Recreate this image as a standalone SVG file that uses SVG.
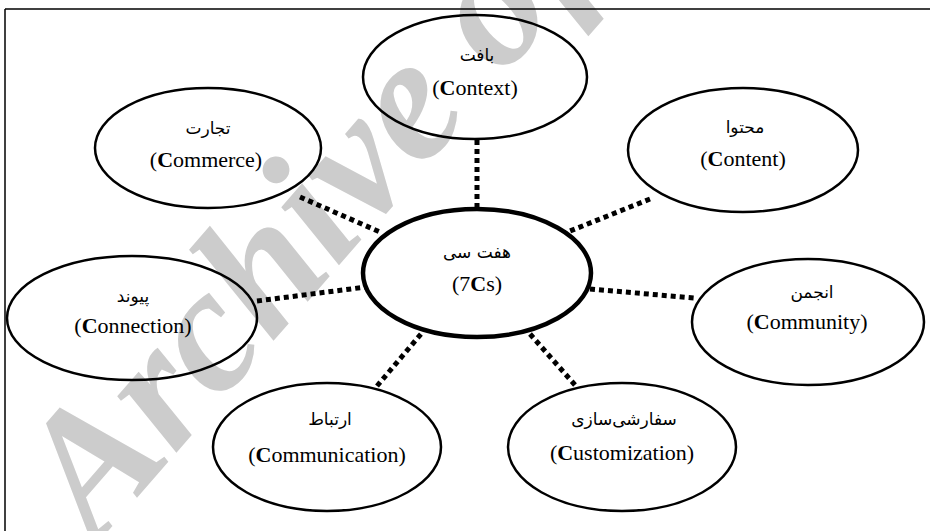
<svg xmlns="http://www.w3.org/2000/svg" width="930" height="531" viewBox="0 0 930 531">
<style>
.node ellipse{fill:none;stroke:#000;stroke-width:2.5}
#center ellipse{stroke-width:4.5}
.fa{font-family:"DejaVu Sans",sans-serif;font-size:17px;fill:#000;text-anchor:middle}
.en{font-family:"Liberation Serif","Times New Roman",serif;font-size:22px;fill:#000;text-anchor:middle}
.b{font-weight:bold}
#connectors line{stroke:#000;stroke-width:5;stroke-dasharray:5 4;fill:none}
</style>
<rect width="930" height="531" fill="#fff"/>
<text x="0" y="0" transform="translate(96 545) rotate(-49)" font-family="Liberation Serif,serif" font-style="italic" font-weight="bold" font-size="178" fill="#cccccc">Archive of</text>
<g id="frame" stroke="#000" stroke-width="1.5">
<line x1="5" y1="9" x2="930" y2="9"/>
<line x1="5" y1="9" x2="5" y2="531"/>
</g>
<g id="connectors">
<line x1="477" y1="140" x2="477" y2="209"/>
<line x1="300" y1="197" x2="380" y2="232"/>
<line x1="650" y1="199" x2="565" y2="233"/>
<line x1="257" y1="301" x2="366" y2="287"/>
<line x1="590" y1="289" x2="694" y2="298"/>
<line x1="377" y1="386" x2="421" y2="334"/>
<line x1="575" y1="385" x2="530" y2="334"/>
</g>
<g id="context" class="node">
<ellipse cx="475" cy="77" rx="112" ry="62"/>
<text class="fa" x="477" y="61">بافت</text>
<text class="en" x="475" y="95">(<tspan class="b">C</tspan>ontext)</text>
</g>
<g id="commerce" class="node">
<ellipse cx="208" cy="148" rx="113" ry="60"/>
<text class="fa" x="208" y="134">تجارت</text>
<text class="en" x="206" y="167">(<tspan class="b">C</tspan>ommerce)</text>
</g>
<g id="content" class="node">
<ellipse cx="743" cy="150" rx="115" ry="62"/>
<text class="fa" x="745" y="133">محتوا</text>
<text class="en" x="743" y="166">(<tspan class="b">C</tspan>ontent)</text>
</g>
<g id="center" class="node">
<ellipse cx="477" cy="273" rx="114" ry="64"/>
<text class="fa" x="477" y="258">هفت سی</text>
<text class="en" x="477" y="291">(7<tspan class="b">C</tspan>s)</text>
</g>
<g id="connection" class="node">
<ellipse cx="132" cy="318" rx="125" ry="62"/>
<text class="fa" x="133" y="302">پیوند</text>
<text class="en" x="133" y="333">(<tspan class="b">C</tspan>onnection)</text>
</g>
<g id="community" class="node">
<ellipse cx="808" cy="322" rx="116" ry="63"/>
<text class="fa" x="812" y="298">انجمن</text>
<text class="en" x="807" y="329">(<tspan class="b">C</tspan>ommunity)</text>
</g>
<g id="communication" class="node">
<ellipse cx="327" cy="447" rx="114" ry="64"/>
<text class="fa" x="330" y="425">ارتباط</text>
<text class="en" x="327" y="462">(<tspan class="b">C</tspan>ommunication)</text>
</g>
<g id="customization" class="node">
<ellipse cx="622" cy="447" rx="114" ry="64"/>
<text class="fa" x="624" y="425">سفارشی‌سازی</text>
<text class="en" x="622" y="460">(<tspan class="b">C</tspan>ustomization)</text>
</g>
</svg>
